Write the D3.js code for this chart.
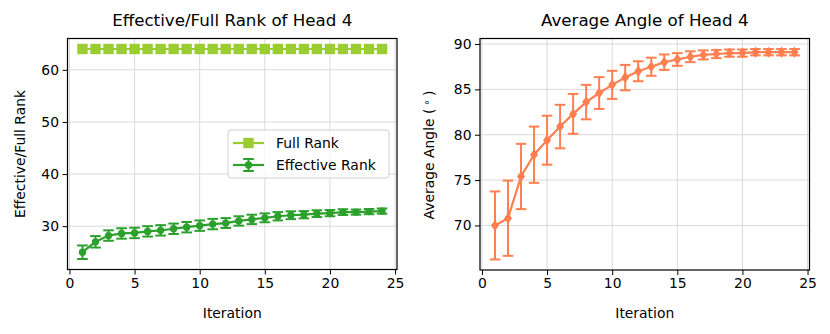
<!DOCTYPE html>
<html>
<head>
<meta charset="utf-8">
<script src="https://cdn.jsdelivr.net/npm/d3@7"></script>
<style>
    body { margin: 0; background: #fff; }
    svg { font-family: "DejaVu Sans", sans-serif; }
</style>
</head>
<body>
<svg id="chart" width="830" height="334"></svg>
<script>
var iterations = [1, 2, 3, 4, 5, 6, 7, 8, 9, 10, 11, 12, 13, 14, 15, 16, 17, 18, 19, 20, 21, 22, 23, 24];
var fullRank = [64, 64, 64, 64, 64, 64, 64, 64, 64, 64, 64, 64, 64, 64, 64, 64, 64, 64, 64, 64, 64, 64, 64, 64];
var effRank = [25.0, 27.0, 28.2, 28.6, 28.7, 29.0, 29.2, 29.5, 29.8, 30.1, 30.4, 30.6, 31.0, 31.3, 31.6, 31.9, 32.1, 32.2, 32.4, 32.5, 32.7, 32.7, 32.8, 32.9];
var effErr = [1.3, 1.1, 1.0, 1.0, 1.0, 1.0, 1.0, 1.0, 1.0, 1.0, 1.0, 0.95, 0.9, 0.9, 0.85, 0.8, 0.75, 0.7, 0.65, 0.6, 0.55, 0.5, 0.5, 0.5];
var angle = [70.0, 70.8, 75.4, 77.8, 79.4, 80.9, 82.3, 83.6, 84.6, 85.5, 86.3, 87.0, 87.5, 88.0, 88.3, 88.6, 88.8, 88.9, 89.0, 89.0, 89.1, 89.1, 89.1, 89.1];
var angleErr = [3.75, 4.15, 3.6, 3.1, 2.7, 2.4, 2.2, 1.9, 1.75, 1.55, 1.4, 1.1, 1.0, 0.85, 0.7, 0.6, 0.5, 0.45, 0.4, 0.4, 0.35, 0.35, 0.35, 0.35];
var xTicks = [0, 5, 10, 15, 20, 25];
var leftTicks = [30, 40, 50, 60];
var rightTicks = [70, 75, 80, 85, 90];

(function () {
    var svg = d3.select("#chart");

    function padded(lo, hi) {
        var m = (hi - lo) * 0.05;
        return [lo - m, hi + m];
    }

    function panel(opts) {
        var g = svg.append("g");
        var x = d3.scaleLinear().domain(padded(1, 24)).range([opts.left, opts.right]);
        var y = d3.scaleLinear().domain(opts.yDomain).range([opts.bottom, opts.top]);

        // grid
        g.selectAll(".gx").data(xTicks).enter().append("line")
            .attr("x1", function (d) { return x(d); }).attr("x2", function (d) { return x(d); })
            .attr("y1", opts.top).attr("y2", opts.bottom)
            .attr("stroke", "#d9d9d9").attr("stroke-width", 1);
        g.selectAll(".gy").data(opts.yTicks).enter().append("line")
            .attr("y1", function (d) { return y(d); }).attr("y2", function (d) { return y(d); })
            .attr("x1", opts.left).attr("x2", opts.right)
            .attr("stroke", "#d9d9d9").attr("stroke-width", 1);

        var xAxis = g.append("g").attr("transform", "translate(0," + opts.bottom + ")")
            .call(d3.axisBottom(x).tickValues(xTicks).tickSize(5).tickPadding(3.5));
        var yAxis = g.append("g").attr("transform", "translate(" + opts.left + ",0)")
            .call(d3.axisLeft(y).tickValues(opts.yTicks).tickSize(5).tickPadding(3.5));
        [xAxis, yAxis].forEach(function (a) {
            a.select(".domain").remove();
            a.selectAll("text").attr("font-size", 13.9).attr("fill", "#000")
                .attr("font-family", "DejaVu Sans, sans-serif");
            a.selectAll("line").attr("stroke", "#000").attr("stroke-width", 1);
        });

        g.append("rect")
            .attr("x", opts.left).attr("y", opts.top)
            .attr("width", opts.right - opts.left).attr("height", opts.bottom - opts.top)
            .attr("fill", "none").attr("stroke", "#000").attr("stroke-width", 1.2);

        g.append("text").attr("x", (opts.left + opts.right) / 2).attr("y", 26)
            .attr("text-anchor", "middle").attr("font-size", 16.7).text(opts.title);
        g.append("text").attr("x", (opts.left + opts.right) / 2).attr("y", 318)
            .attr("text-anchor", "middle").attr("font-size", 13.9).text("Iteration");

        return { g: g, x: x, y: y };
    }

    function errorSeries(p, vals, errs, color, marker) {
        var pts = iterations.map(function (d, i) { return { x: d, y: vals[i], e: errs[i] }; });
        var eb = p.g.append("g");
        pts.forEach(function (d) {
            var cx = p.x(d.x);
            eb.append("line").attr("x1", cx).attr("x2", cx)
                .attr("y1", p.y(d.y - d.e)).attr("y2", p.y(d.y + d.e))
                .attr("stroke", color).attr("stroke-width", 2);
            [d.y - d.e, d.y + d.e].forEach(function (v) {
                eb.append("line").attr("x1", cx - 5.3).attr("x2", cx + 5.3)
                    .attr("y1", p.y(v)).attr("y2", p.y(v))
                    .attr("stroke", color).attr("stroke-width", 2);
            });
        });
        p.g.append("path").datum(pts)
            .attr("d", d3.line().x(function (d) { return p.x(d.x); }).y(function (d) { return p.y(d.y); }))
            .attr("fill", "none").attr("stroke", color).attr("stroke-width", 2.2);
        p.g.selectAll(null).data(pts).enter().append("path")
            .attr("transform", function (d) { return "translate(" + p.x(d.x) + "," + p.y(d.y) + ")"; })
            .attr("d", marker).attr("fill", color);
    }

    var diamond = "M0,-5.5L4,0L0,5.5L-4,0Z";
    var circle = d3.symbol().type(d3.symbolCircle).size(42)();

    // left panel
    var lo = d3.min(effRank.map(function (v, i) { return v - effErr[i]; }));
    var left = panel({
        left: 67.5, right: 397, top: 38.5, bottom: 269.5,
        yDomain: padded(lo, d3.max(fullRank)), yTicks: leftTicks,
        title: "Effective/Full Rank of Head 4"
    });

    var frPts = iterations.map(function (d, i) { return { x: d, y: fullRank[i] }; });
    left.g.append("path").datum(frPts)
        .attr("d", d3.line().x(function (d) { return left.x(d.x); }).y(function (d) { return left.y(d.y); }))
        .attr("fill", "none").attr("stroke", "#9acd32").attr("stroke-width", 2.2);
    left.g.selectAll(null).data(frPts).enter().append("rect")
        .attr("x", function (d) { return left.x(d.x) - 5.2; })
        .attr("y", function (d) { return left.y(d.y) - 5.2; })
        .attr("width", 10.4).attr("height", 10.4).attr("fill", "#9acd32");

    errorSeries(left, effRank, effErr, "#2ca02c", circle);

    left.g.append("text").attr("transform", "translate(25," + 154 + ") rotate(-90)")
        .attr("text-anchor", "middle").attr("font-size", 13.9).text("Effective/Full Rank");

    // legend
    var lg = left.g.append("g").attr("transform", "translate(228,130)");
    lg.append("rect").attr("width", 161).attr("height", 48).attr("rx", 3)
        .attr("fill", "#fff").attr("fill-opacity", 0.8).attr("stroke", "#d0d0d0").attr("stroke-width", 1);
    lg.append("line").attr("x1", 5).attr("x2", 36).attr("y1", 13).attr("y2", 13)
        .attr("stroke", "#9acd32").attr("stroke-width", 2.2);
    lg.append("rect").attr("x", 15.3).attr("y", 7.8).attr("width", 10.4).attr("height", 10.4).attr("fill", "#9acd32");
    lg.append("text").attr("x", 48).attr("y", 18).attr("font-size", 13.9).text("Full Rank");
    var ly = 35;
    lg.append("line").attr("x1", 5).attr("x2", 36).attr("y1", ly).attr("y2", ly)
        .attr("stroke", "#2ca02c").attr("stroke-width", 2.2);
    lg.append("line").attr("x1", 20.5).attr("x2", 20.5).attr("y1", ly - 6).attr("y2", ly + 6)
        .attr("stroke", "#2ca02c").attr("stroke-width", 2);
    [ly - 6, ly + 6].forEach(function (v) {
        lg.append("line").attr("x1", 15.2).attr("x2", 25.8).attr("y1", v).attr("y2", v)
            .attr("stroke", "#2ca02c").attr("stroke-width", 2);
    });
    lg.append("path").attr("transform", "translate(20.5," + ly + ")").attr("d", circle).attr("fill", "#2ca02c");
    lg.append("text").attr("x", 48).attr("y", ly + 5).attr("font-size", 13.9).text("Effective Rank");

    // right panel
    var alo = d3.min(angle.map(function (v, i) { return v - angleErr[i]; }));
    var ahi = d3.max(angle.map(function (v, i) { return v + angleErr[i]; }));
    var right = panel({
        left: 480, right: 809.5, top: 38.5, bottom: 270,
        yDomain: padded(alo, ahi), yTicks: rightTicks,
        title: "Average Angle of Head 4"
    });
    errorSeries(right, angle, angleErr, "#ff7f50", diamond);

    var yl = right.g.append("text").attr("transform", "translate(434,155) rotate(-90)")
        .attr("text-anchor", "middle").attr("font-size", 13.9);
    yl.append("tspan").text("Average Angle (");
    yl.append("tspan").attr("dy", -4.5).attr("font-size", 10).text(" \u2218 ");
    yl.append("tspan").attr("dy", 4.5).text(")");
})();
</script>
</body>
</html>
